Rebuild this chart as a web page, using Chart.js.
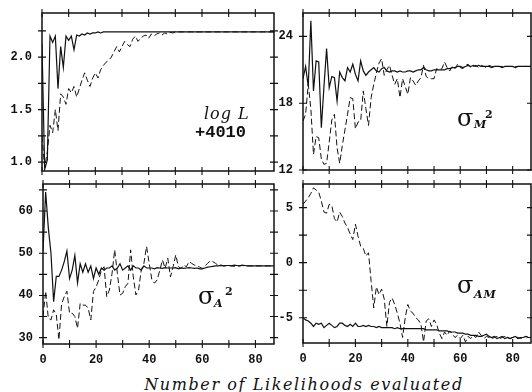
<!DOCTYPE html>
<html>
<head>
<meta charset="utf-8">
<script src="https://cdn.jsdelivr.net/npm/chart.js@4.4.0/dist/chart.umd.min.js"></script>
<style>
  html, body { margin:0; padding:0; background:#fff; }
  #page { position:relative; width:532px; height:392px; overflow:hidden; background:#fff; }
  canvas { position:absolute; }
  .lbl { position:absolute; line-height:1; color:#111; white-space:nowrap; font-family:"DejaVu Serif", serif; }
</style>
</head>
<body>
<div id="page">
  <canvas id="cTL" width="282" height="180" style="left:0;top:0;width:282px;height:180px"></canvas>
  <canvas id="cTR" width="270" height="180" style="left:262px;top:0;width:270px;height:180px"></canvas>
  <canvas id="cBL" width="282" height="196" style="left:0;top:176px;width:282px;height:196px"></canvas>
  <canvas id="cBR" width="270" height="196" style="left:262px;top:176px;width:270px;height:196px"></canvas>

  <div class="lbl" style="left:204px;top:106px;font-size:16px;font-style:italic;letter-spacing:1px">log L</div>
  <div class="lbl" style="left:195px;top:124px;font-size:17px;font-family:'Liberation Mono',monospace;font-weight:bold">+4010</div>

  <div class="lbl" style="left:457px;top:106px;font-size:24px">σ</div>
  <div class="lbl" style="left:474px;top:119px;font-size:11px;font-style:italic;font-weight:bold">M</div>
  <div class="lbl" style="left:485px;top:109px;font-size:11px;font-weight:bold">2</div>

  <div class="lbl" style="left:198px;top:284px;font-size:24px">σ</div>
  <div class="lbl" style="left:214px;top:298px;font-size:11px;font-style:italic;font-weight:bold">A</div>
  <div class="lbl" style="left:225px;top:286px;font-size:11px;font-weight:bold">2</div>

  <div class="lbl" style="left:457px;top:273px;font-size:24px">σ</div>
  <div class="lbl" style="left:474px;top:289px;font-size:11px;font-style:italic;font-weight:bold;letter-spacing:1px">AM</div>

  <div class="lbl" style="left:104px;width:400px;text-align:center;top:377px;font-size:16px;font-style:italic;letter-spacing:1.6px">Number of Likelihoods evaluated</div>
</div>

<script>
// ---- data: one value per likelihood evaluation ----
const iterations = [
  0, 1, 2, 3, 4, 5, 6, 7, 8, 9,
  10, 11, 12, 13, 14, 15, 16, 17, 18, 19,
  20, 21, 22, 23, 24, 25, 26, 27, 28, 29,
  30, 31, 32, 33, 34, 35, 36, 37, 38, 39,
  40, 41, 42, 43, 44, 45, 46, 47, 48, 49,
  50, 51, 52, 53, 54, 55, 56, 57, 58, 59,
  60, 61, 62, 63, 64, 65, 66, 67, 68, 69,
  70, 71, 72, 73, 74, 75, 76, 77, 78, 79,
  80, 81, 82, 83, 84, 85, 86, 87
];

// log L + 4010
const logLSolid = [
  2.13, 0.93, 1.02, 2.20, 2.14, 2.20, 1.70, 2.10, 1.90, 2.20,
  2.16, 2.20, 2.07, 2.21, 2.20, 2.22, 2.21, 2.23, 2.22, 2.23,
  2.23, 2.24, 2.23, 2.24, 2.24, 2.24, 2.24, 2.24, 2.24, 2.24,
  2.24, 2.24, 2.24, 2.24, 2.24, 2.24, 2.24, 2.24, 2.24, 2.24,
  2.24, 2.24, 2.24, 2.24, 2.24, 2.24, 2.24, 2.24, 2.24, 2.24,
  2.24, 2.24, 2.24, 2.24, 2.24, 2.24, 2.24, 2.24, 2.24, 2.24,
  2.24, 2.24, 2.24, 2.24, 2.24, 2.24, 2.24, 2.24, 2.24, 2.24,
  2.24, 2.24, 2.24, 2.24, 2.24, 2.24, 2.24, 2.24, 2.24, 2.24,
  2.24, 2.24, 2.24, 2.24, 2.24, 2.24, 2.24, 2.24
];
const logLDashed = [
  1.25, 0.95, 1.10, 1.35, 1.28, 1.50, 1.30, 1.65, 1.62, 1.55,
  1.70, 1.66, 1.72, 1.62, 1.70, 1.78, 1.85, 1.78, 1.72, 1.80,
  1.85, 1.80, 1.88, 1.92, 1.95, 1.97, 2.00, 2.05, 2.10, 2.05,
  2.10, 2.15, 2.12, 2.10, 2.17, 2.20, 2.15, 2.18, 2.20, 2.21,
  2.18, 2.22, 2.20, 2.22, 2.23, 2.21, 2.23, 2.22, 2.235, 2.23,
  2.24, 2.24, 2.24, 2.24, 2.24, 2.24, 2.24, 2.24, 2.24, 2.24,
  2.24, 2.24, 2.24, 2.24, 2.24, 2.24, 2.24, 2.24, 2.24, 2.24,
  2.24, 2.24, 2.24, 2.24, 2.24, 2.24, 2.24, 2.24, 2.24, 2.24,
  2.24, 2.24, 2.24, 2.24, 2.24, 2.24, 2.24, 2.24
];

// sigma_M^2
const sigMSolid = [
  20.2, 21.3, 19.5, 25.4, 19.1, 21.8, 21.7, 15.8, 19.5, 22.9,
  19.4, 20.4, 20.3, 18.2, 20.8, 20.3, 20.0, 21.2, 20.8, 21.5,
  20.6, 20.0, 21.8, 20.9, 20.5, 20.8, 21.0, 21.2, 20.9, 20.8,
  21.1, 21.2, 20.9, 20.8, 20.9, 20.9, 20.8, 20.9, 20.8, 20.8,
  20.9, 20.9, 20.8, 20.9, 21.0, 21.0, 21.2, 21.0, 20.9, 20.9,
  21.0, 21.0, 21.0, 21.0, 21.0, 21.1, 21.1, 21.2, 21.2, 21.3,
  21.3, 21.2, 21.3, 21.4, 21.3, 21.4, 21.3, 21.4, 21.3, 21.3,
  21.3, 21.3, 21.2, 21.3, 21.3, 21.3, 21.2, 21.3, 21.3, 21.3,
  21.3, 21.2, 21.3, 21.3, 21.3, 21.3, 21.3, 21.3
];
const sigMDashed = [
  16.4, 17.0, 19.7, 17.5, 13.4, 15.0, 14.9, 13.0, 12.5, 12.6,
  14.5, 16.5, 17.0, 14.0, 12.6, 14.2, 15.6, 17.0, 18.5, 18.4,
  15.7, 16.3, 16.4, 19.1, 17.5, 16.0, 18.5, 19.7, 20.7, 21.6,
  22.0, 20.5, 21.0, 21.4, 20.5, 19.7, 20.2, 18.5, 20.2, 19.5,
  18.8, 20.3, 20.0, 19.6, 20.0, 20.3, 21.4, 20.4, 20.2, 20.2,
  20.2, 21.1, 21.0, 21.1, 21.7, 21.2, 20.9, 21.3, 21.1, 21.5,
  21.2, 21.1, 21.4, 21.5, 21.2, 21.3, 21.4, 21.2, 21.4, 21.3,
  21.2, 21.4, 21.3, 21.3, 21.3, 21.3, 21.3, 21.3, 21.3, 21.3,
  21.3, 21.3, 21.3, 21.3, 21.3, 21.3, 21.3, 21.3
];

// sigma_A^2
const sigASolid = [
  50.5, 64.5, 56.0, 50.0, 38.5, 44.5, 44.5, 46.0, 48.0, 50.5,
  44.0, 46.0, 49.5, 43.0, 47.5, 45.5, 47.5, 45.5, 47.0, 44.0,
  46.5, 45.0, 46.5, 46.0, 46.5, 46.5, 47.0, 46.0, 46.5, 47.5,
  46.0, 46.5, 47.0, 46.0, 47.0, 46.5, 46.5, 46.0, 47.0, 46.5,
  46.5, 46.5, 46.3, 46.6, 46.5, 46.4, 46.6, 46.5, 46.5, 46.5,
  46.6, 46.3, 46.5, 46.4, 46.5, 46.6, 46.5, 46.4, 46.5, 46.3,
  46.3, 46.5, 46.7, 46.8, 46.9, 47.0, 47.0, 47.1, 47.0, 47.1,
  47.1, 47.0, 47.2, 47.1, 47.0, 47.2, 47.1, 47.0, 47.0, 47.0,
  47.0, 47.0, 47.0, 47.0, 47.0, 47.0, 47.0, 47.0
];
const sigADashed = [
  35.0, 41.0, 34.6, 34.2, 36.6, 35.5, 29.5, 38.0, 39.7, 41.0,
  35.8, 35.8, 35.0, 32.2, 38.1, 37.7, 37.7, 37.0, 34.2, 40.9,
  42.0, 43.7, 46.0, 46.8, 39.7, 41.3, 45.2, 50.8, 45.2, 40.1,
  40.5, 42.1, 42.9, 50.8, 44.4, 40.1, 41.3, 46.0, 47.6, 51.6,
  47.6, 43.7, 42.9, 43.7, 46.0, 48.4, 46.4, 48.8, 44.4, 46.8,
  49.6, 46.8, 46.4, 47.2, 46.8, 48.0, 47.6, 47.2, 47.0, 46.7,
  46.4, 47.0, 47.6, 48.2, 48.0, 47.6, 47.1, 47.2, 47.0, 47.0,
  47.1, 47.0, 46.9, 47.0, 47.0, 47.1, 47.0, 47.0, 47.0, 47.0,
  47.0, 47.0, 47.0, 47.0, 47.0, 47.0, 47.0, 47.0
];

// sigma_AM
const sigAMSolid = [
  -5.0, -5.2, -5.3, -5.5, -5.8, -5.5, -5.6, -5.5, -5.9, -5.7,
  -5.5, -5.7, -5.9, -5.8, -5.5, -5.5, -5.7, -5.8, -5.6, -5.8,
  -5.5, -5.8, -5.8, -5.7, -5.8, -5.7, -5.8, -5.8, -5.9, -5.8,
  -5.9, -5.9, -5.9, -5.9, -5.9, -6.0, -5.9, -6.0, -6.0, -6.0,
  -6.0, -6.0, -6.0, -6.0, -6.0, -6.0, -6.0, -6.1, -6.1, -6.1,
  -6.1, -6.1, -6.2, -6.2, -6.2, -6.2, -6.3, -6.3, -6.3, -6.4,
  -6.4, -6.4, -6.5, -6.5, -6.6, -6.6, -6.6, -6.7, -6.7, -6.6,
  -6.5, -6.7, -6.8, -6.7, -6.9, -6.8, -6.7, -6.9, -6.8, -6.9,
  -6.8, -6.7, -6.9, -6.8, -6.8, -6.7, -6.8, -6.8
];
const sigAMDashed = [
  5.3, 5.6, 5.9, 6.3, 6.8, 6.6, 6.4, 5.6, 4.6, 4.5,
  5.3, 5.2, 4.0, 3.7, 4.6, 4.2, 3.6, 3.2, 2.6, 2.1,
  3.5, 2.4, 1.5, 1.3, 0.6, 0.9, -1.7, -4.1, -2.2, -2.9,
  -2.4, -3.3, -5.8, -3.6, -3.2, -3.8, -4.6, -5.5, -6.8, -5.0,
  -3.8, -4.4, -4.6, -5.0, -5.2, -5.6, -7.2, -5.3, -5.1, -5.8,
  -5.2, -5.6, -6.4, -6.9, -6.3, -6.6, -6.2, -6.5, -6.8, -6.6,
  -6.9, -6.6, -7.2, -6.7, -6.9, -6.6, -6.8, -6.3, -6.6, -6.9,
  -6.7, -6.8, -6.9, -6.8, -6.7, -6.9, -6.8, -6.7, -6.8, -6.9,
  -6.8, -6.7, -6.8, -6.9, -6.8, -6.7, -6.8, -6.8
];

// ---- drawing ----
const INK = '#111';
const tickFont = { family: "'Liberation Mono', monospace", size: 12, weight: 'bold' };

function isMultiple(v, step) {
  return Math.abs(v / step - Math.round(v / step)) < 1e-6;
}

// box round the plot with ticks crossing every side
const frameTicks = {
  id: 'frameTicks',
  afterDraw(chart) {
    const ctx = chart.ctx, a = chart.chartArea;
    const xs = chart.scales.x, ys = chart.scales.y;
    const len = 4;
    ctx.save();
    ctx.strokeStyle = INK;
    ctx.lineWidth = 1.5;
    ctx.strokeRect(a.left, a.top, a.right - a.left, a.bottom - a.top);
    ctx.lineWidth = 1.1;
    ctx.beginPath();
    xs.ticks.forEach(t => {
      const px = xs.getPixelForValue(t.value);
      ctx.moveTo(px, a.top - len); ctx.lineTo(px, a.top + len);
      ctx.moveTo(px, a.bottom - len); ctx.lineTo(px, a.bottom + len);
    });
    ys.ticks.forEach(t => {
      const py = ys.getPixelForValue(t.value);
      ctx.moveTo(a.left - len, py); ctx.lineTo(a.left + len, py);
      ctx.moveTo(a.right - len, py); ctx.lineTo(a.right + len, py);
    });
    ctx.stroke();
    ctx.restore();
  }
};

function makePanel(id, solid, dashed, yOpt, box) {
  new Chart(document.getElementById(id), {
    type: 'line',
    data: {
      labels: iterations,
      datasets: [
        { data: solid, borderColor: INK, borderWidth: 1.2, pointRadius: 0, tension: 0, fill: false },
        { data: dashed, borderColor: INK, borderWidth: 1, borderDash: [6, 3], pointRadius: 0, tension: 0, fill: false }
      ]
    },
    options: {
      responsive: false,
      animation: false,
      devicePixelRatio: 1,
      layout: { padding: { top: box.top, right: box.right, left: 0, bottom: 0 } },
      plugins: { legend: { display: false }, tooltip: { enabled: false } },
      scales: {
        x: {
          type: 'linear', min: 0, max: 87,
          grid: { display: false, drawTicks: false }, border: { display: false },
          ticks: {
            stepSize: 10, includeBounds: false, autoSkip: false, maxRotation: 0,
            padding: 9, color: INK, font: tickFont,
            callback: v => (box.xLabels && isMultiple(v, 20)) ? String(v) : ''
          },
          afterFit: s => { s.height = box.xHeight; s.paddingLeft = 0; s.paddingRight = 0; }
        },
        y: {
          min: yOpt.min, max: yOpt.max,
          grid: { display: false, drawTicks: false }, border: { display: false },
          ticks: {
            stepSize: yOpt.step, includeBounds: false, autoSkip: false,
            padding: 10, color: INK, font: tickFont,
            callback: v => isMultiple(v, yOpt.labelEvery) ? yOpt.fmt(v) : ''
          },
          afterFit: s => { s.width = box.yWidth; s.paddingTop = 0; s.paddingBottom = 0; }
        }
      }
    },
    plugins: [frameTicks]
  });
}

makePanel('cTL', logLSolid, logLDashed,
  { min: 0.915, max: 2.42, step: 0.25, labelEvery: 0.5, fmt: v => v.toFixed(1) },
  { top: 13, right: 8, yWidth: 42, xHeight: 9, xLabels: false });
makePanel('cTR', sigMSolid, sigMDashed,
  { min: 12, max: 26.1, step: 6, labelEvery: 6, fmt: v => String(v) },
  { top: 13, right: 1, yWidth: 41, xHeight: 10, xLabels: false });
makePanel('cBL', sigASolid, sigADashed,
  { min: 28.5, max: 66.4, step: 5, labelEvery: 10, fmt: v => String(v) },
  { top: 8, right: 8, yWidth: 43, xHeight: 28, xLabels: true });
makePanel('cBR', sigAMSolid, sigAMDashed,
  { min: -7.3, max: 7.15, step: 2.5, labelEvery: 5, fmt: v => String(v) },
  { top: 8, right: 1, yWidth: 41, xHeight: 29, xLabels: true });
</script>
</body>
</html>
